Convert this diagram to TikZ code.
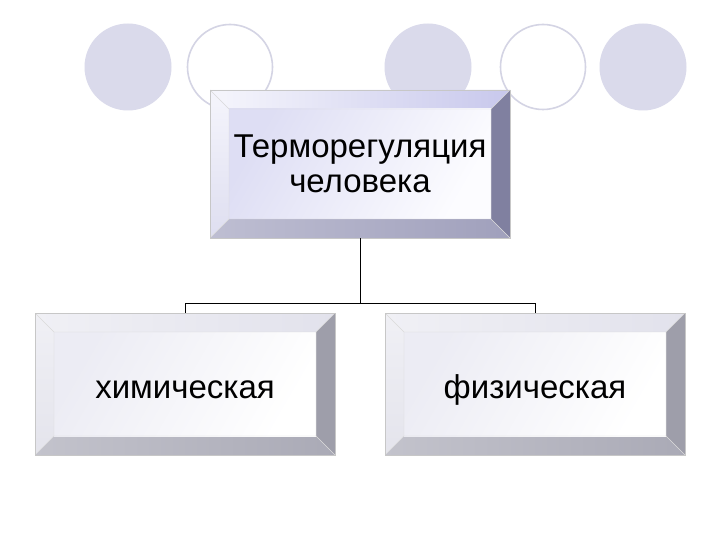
\documentclass[tikz,border=0pt]{standalone}
\usepackage{fontspec}
\setmainfont{Liberation Sans}
\definecolor{circfill}{RGB}{218,218,235}
\definecolor{circline}{RGB}{212,212,228}
\definecolor{tTopL}{RGB}{246,246,252}
\definecolor{tTopR}{RGB}{200,200,236}
\definecolor{tRight}{RGB}{128,128,160}
\definecolor{tBotL}{RGB}{190,190,210}
\definecolor{tBotR}{RGB}{160,160,188}
\definecolor{tLeftT}{RGB}{245,245,252}
\definecolor{tLeftB}{RGB}{222,222,240}
\definecolor{tFaceA}{RGB}{222,222,244}
\definecolor{tFaceB}{RGB}{252,252,255}
\definecolor{lTopL}{RGB}{240,240,245}
\definecolor{lTopR}{RGB}{226,226,236}
\definecolor{lRight}{RGB}{158,158,170}
\definecolor{lBotL}{RGB}{195,195,204}
\definecolor{lBotR}{RGB}{170,170,182}
\definecolor{lLeftT}{RGB}{240,240,245}
\definecolor{lLeftB}{RGB}{228,228,236}
\definecolor{lFaceA}{RGB}{236,236,244}
\definecolor{lFaceB}{RGB}{255,255,255}
\begin{document}
\begin{tikzpicture}[x=1pt,y=-1pt,
  circf/.style={circle, minimum size=87pt, inner sep=0pt, fill=circfill},
  circo/.style={circle, minimum size=85pt, inner sep=0pt, draw=circline, line width=1.6pt},
  bevelbox/.style n args={9}{inner sep=0pt, align=center,
    font=\fontsize{33}{35}\selectfont, draw=black!22, line width=0.5pt,
    path picture={
      \coordinate (A) at (path picture bounding box.north west);
      \coordinate (B) at (path picture bounding box.north east);
      \coordinate (C) at (path picture bounding box.south east);
      \coordinate (D) at (path picture bounding box.south west);
      \coordinate (a) at ([xshift=19pt,yshift=-19pt]A);
      \coordinate (b) at ([xshift=-19pt,yshift=-19pt]B);
      \coordinate (c) at ([xshift=-19pt,yshift=19pt]C);
      \coordinate (d) at ([xshift=19pt,yshift=19pt]D);
      \shade[left color=#1, right color=#2] (A) -- (B) -- (b) -- (a) -- cycle;
      \fill[#3] (B) -- (C) -- (c) -- (b) -- cycle;
      \shade[left color=#4, right color=#5] (C) -- (D) -- (d) -- (c) -- cycle;
      \shade[top color=#6, bottom color=#7] (D) -- (A) -- (a) -- (d) -- cycle;
      \shade[left color=#8, right color=#9, shading angle=60] (a) rectangle (c);
      \draw[black!15, line width=0.4pt] (a) rectangle (c) (A) -- (a) (B) -- (b) (C) -- (c) (D) -- (d);
    }},
  topbox/.style={bevelbox={tTopL}{tTopR}{tRight}{tBotL}{tBotR}{tLeftT}{tLeftB}{tFaceA}{tFaceB}},
  lowbox/.style={bevelbox={lTopL}{lTopR}{lRight}{lBotL}{lBotR}{lLeftT}{lLeftB}{lFaceA}{lFaceB}},
  conn/.style={draw=black, line width=0.8pt}
]
\useasboundingbox[fill=white] (0,0) rectangle (720,540);
\node[circf] (c1) at (128,67) {};
\node[circo] (c2) at (230,67) {};
\node[circf] (c3) at (428,67) {};
\node[circo] (c4) at (543,67) {};
\node[circf] (c5) at (643,67) {};

\node[topbox, minimum width=300pt, minimum height=148pt] (top) at (360,164) {Терморегуляция\\человека};
\node[lowbox, minimum width=300pt, minimum height=142pt] (left) at (185,384) {\raisebox{-6pt}[\height][\depth]{химическая}};
\node[lowbox, minimum width=300pt, minimum height=142pt] (right) at (535,384) {\raisebox{-6pt}[\height][\depth]{физическая}};

\coordinate (bus) at (360,303);
\draw[conn] (top.south) -- (top.south |- bus);
\draw[conn] (left.north) -- (left.north |- bus) -- (right.north |- bus) -- (right.north);
\end{tikzpicture}
\end{document}
